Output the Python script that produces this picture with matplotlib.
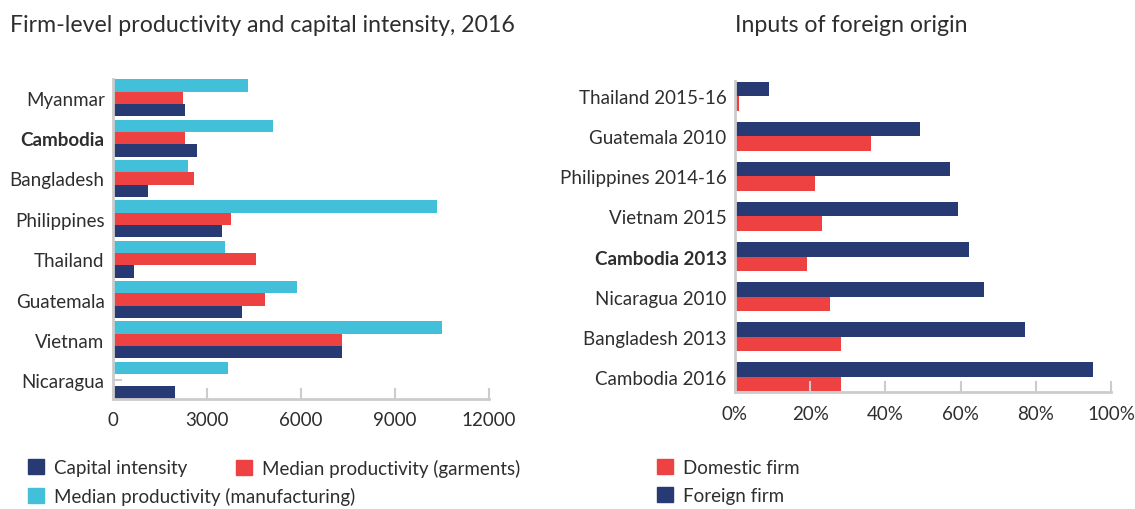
import numpy as np
import matplotlib.pyplot as plt
from matplotlib.patches import Patch

plt.rcParams['font.family'] = ['Lato', 'DejaVu Sans']

# Left chart: firm-level productivity and capital intensity, 2016
countries = ['Myanmar', 'Cambodia', 'Bangladesh', 'Philippines', 'Thailand',
             'Guatemala', 'Vietnam', 'Nicaragua']
manufacturing = [4300, 5100, 2380, 10330, 3560, 5860, 10490, 3660]
garments = [2220, 2290, 2570, 3760, 4550, 4840, 7300, 0]
capital = [2290, 2670, 1110, 3470, 660, 4110, 7300, 1970]

# Right chart: inputs of foreign origin
origin_labels = ['Thailand 2015-16', 'Guatemala 2010', 'Philippines 2014-16',
                 'Vietnam 2015', 'Cambodia 2013', 'Nicaragua 2010',
                 'Bangladesh 2013', 'Cambodia 2016']
foreign = [9.1, 49.2, 57.2, 59.3, 62.2, 66.2, 77.1, 95.1]
domestic = [1.0, 36.2, 21.2, 23.1, 19.2, 25.2, 28.2, 28.2]

navy = '#283a73'
red = '#ee4242'
cyan = '#42bfd9'
grey = '#cccccc'
text_col = '#2e2e2e'

W, H = 1135, 510
fig = plt.figure(figsize=(W / 100, H / 100), dpi=100)

# ---- left panel
ax1 = fig.add_axes([113 / W, 1 - 400 / H, 376 / W, 320 / H])
y = np.arange(len(countries))
h = 0.305
ax1.barh(y - h, manufacturing, height=h, color=cyan)
ax1.barh(y, garments, height=h, color=red)
ax1.barh(y + h, capital, height=h, color=navy)
ax1.set_ylim(len(countries) - 1 + 1.5 * h + 0.005, -1.5 * h - 0.005)
ax1.set_xlim(0, 12000)
ax1.set_xticks([0, 3000, 6000, 9000, 12000])
ax1.set_xticklabels(['0', '3000', '6000', '9000', '12000'])
ax1.set_yticks(y)
ax1.set_yticklabels(countries)
# small grey stub at Nicaragua
ax1.plot([0, 300], [len(countries) - 1, len(countries) - 1], color=grey, lw=1.5,
         solid_capstyle='butt', clip_on=False)

# ---- right panel
ax2 = fig.add_axes([735 / W, 1 - 393 / H, 376 / W, 311 / H])
y2 = np.arange(len(origin_labels))
h2 = 0.36
ax2.barh(y2 - h2 / 2, foreign, height=h2, color=navy)
ax2.barh(y2 + h2 / 2, domestic, height=h2, color=red)
ax2.set_ylim(len(origin_labels) - 1 + h2 + 0.02, -h2 - 0.02)
ax2.set_xlim(0, 100)
ax2.set_xticks([0, 20, 40, 60, 80, 100])
ax2.set_xticklabels(['0%', '20%', '40%', '60%', '80%', '100%'])
ax2.set_yticks(y2)
ax2.set_yticklabels(origin_labels)

for ax in (ax1, ax2):
    for s in ('top', 'right'):
        ax.spines[s].set_visible(False)
    for s in ('left', 'bottom'):
        ax.spines[s].set_color(grey)
        ax.spines[s].set_linewidth(2)
    ax.tick_params(axis='x', direction='in', length=8, width=1.5, color=grey,
                   labelsize=13.5, labelcolor=text_col, pad=9)
    ax.tick_params(axis='y', length=0, labelsize=13.5, labelcolor=text_col, pad=6)
    ax.set_facecolor('none')

ax1.get_yticklabels()[1].set_fontweight('bold')
ax2.get_yticklabels()[4].set_fontweight('bold')

fig.text(10 / W, 1 - 25 / H, 'Firm-level productivity and capital intensity, 2016',
         fontsize=16.7, color=text_col, va='center', ha='left')
fig.text(735 / W, 1 - 25 / H, 'Inputs of foreign origin',
         fontsize=16.7, color=text_col, va='center', ha='left')


# legend entries placed one by one (square top-left corner in pixels)
def legend_item(color, label, px, py):
    leg = fig.legend(handles=[Patch(color=color, label=label)],
                     loc='upper left', bbox_to_anchor=(px / W, 1 - (py - 3) / H),
                     frameon=False, fontsize=13.5, handlelength=0.85,
                     handleheight=0.85, handletextpad=0.55,
                     borderaxespad=0, borderpad=0)
    for t in leg.get_texts():
        t.set_color(text_col)


legend_item(navy, 'Capital intensity', 28, 463)
legend_item(red, 'Median productivity (garments)', 236, 463)
legend_item(cyan, 'Median productivity (manufacturing)', 28, 491)
legend_item(red, 'Domestic firm', 657, 463)
legend_item(navy, 'Foreign firm', 657, 491)

plt.savefig('out.png', dpi=100)
